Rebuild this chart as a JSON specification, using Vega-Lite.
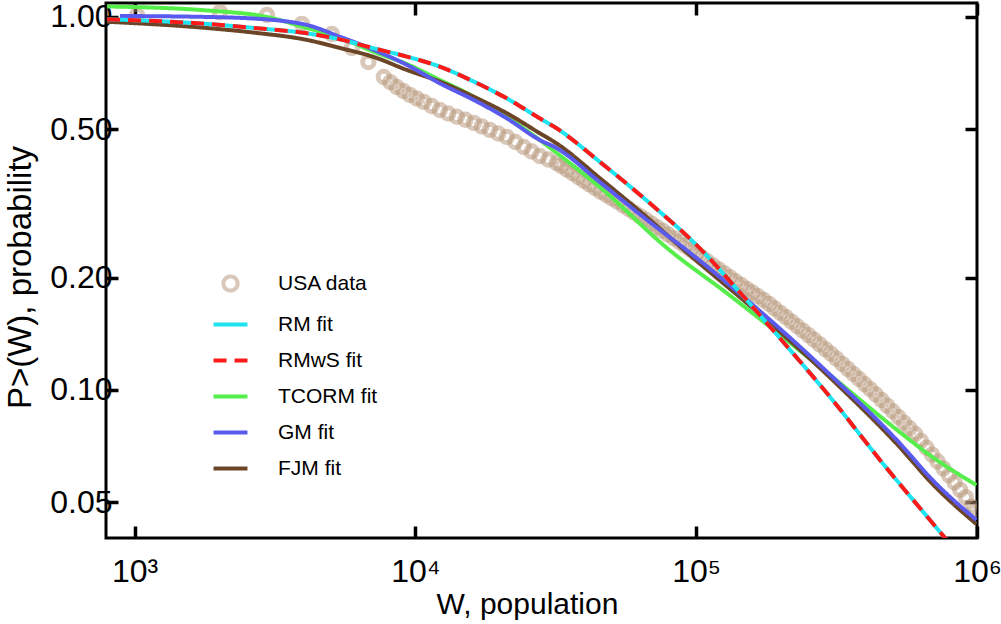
{
  "$schema": "https://vega.github.io/schema/vega-lite/v6.json",
  "autosize": "none",
  "width": 871,
  "height": 535,
  "padding": {"left": 106, "top": 3, "right": 24, "bottom": 86},
  "background": "white",
  "config": {
    "view": {"stroke": "#000000", "strokeWidth": 3},
    "font": "Liberation Sans"
  },
  "datasets": {
    "usa": [
      {"series":"USA data","W":1020,"P":1.012},{"series":"USA data","W":2014,"P":1.03},{"series":"USA data","W":2960,"P":1.012},
      {"series":"USA data","W":3943,"P":0.958},{"series":"USA data","W":5041,"P":0.900},{"series":"USA data","W":5938,"P":0.826},
      {"series":"USA data","W":6800,"P":0.757},{"series":"USA data","W":7718,"P":0.690},{"series":"USA data","W":8147,"P":0.669},
      {"series":"USA data","W":8587,"P":0.649},{"series":"USA data","W":9057,"P":0.633},{"series":"USA data","W":9552,"P":0.618},
      {"series":"USA data","W":10116,"P":0.6045},{"series":"USA data","W":10712,"P":0.592},{"series":"USA data","W":11429,"P":0.577},
      {"series":"USA data","W":12214,"P":0.563},{"series":"USA data","W":13092,"P":0.551},{"series":"USA data","W":14045,"P":0.540},
      {"series":"USA data","W":15066,"P":0.530},{"series":"USA data","W":16143,"P":0.520},{"series":"USA data","W":17219,"P":0.509},
      {"series":"USA data","W":18403,"P":0.498},{"series":"USA data","W":19724,"P":0.487},{"series":"USA data","W":21151,"P":0.477},
      {"series":"USA data","W":22699,"P":0.462},{"series":"USA data","W":24311,"P":0.448},{"series":"USA data","W":25942,"P":0.436},
      {"series":"USA data","W":27712,"P":0.424},{"series":"USA data","W":29717,"P":0.415},{"series":"USA data","W":31853,"P":0.406},
      {"series":"USA data","W":33113,"P":0.3987},{"series":"USA data","W":34674,"P":0.3897},{"series":"USA data","W":36308,"P":0.3809},
      {"series":"USA data","W":38019,"P":0.3723},{"series":"USA data","W":39811,"P":0.3639},{"series":"USA data","W":41687,"P":0.3557},
      {"series":"USA data","W":43652,"P":0.3478},{"series":"USA data","W":45709,"P":0.3401},{"series":"USA data","W":47863,"P":0.3331},
      {"series":"USA data","W":50119,"P":0.3263},{"series":"USA data","W":52481,"P":0.3196},{"series":"USA data","W":54954,"P":0.3126},
      {"series":"USA data","W":57544,"P":0.3057},{"series":"USA data","W":60256,"P":0.2989},{"series":"USA data","W":63096,"P":0.2924},
      {"series":"USA data","W":66069,"P":0.2859},{"series":"USA data","W":69183,"P":0.2795},{"series":"USA data","W":72444,"P":0.2733},
      {"series":"USA data","W":75858,"P":0.2671},{"series":"USA data","W":79433,"P":0.2612},{"series":"USA data","W":83176,"P":0.2553},
      {"series":"USA data","W":87096,"P":0.2496},{"series":"USA data","W":91201,"P":0.2436},{"series":"USA data","W":95499,"P":0.2377},
      {"series":"USA data","W":100000,"P":0.2320},{"series":"USA data","W":104713,"P":0.2265},{"series":"USA data","W":109648,"P":0.2210},
      {"series":"USA data","W":114815,"P":0.2157},{"series":"USA data","W":120226,"P":0.2105},{"series":"USA data","W":125893,"P":0.2054},
      {"series":"USA data","W":131826,"P":0.2005},{"series":"USA data","W":138038,"P":0.1957},{"series":"USA data","W":144544,"P":0.1911},
      {"series":"USA data","W":151356,"P":0.1867},{"series":"USA data","W":158489,"P":0.1825},{"series":"USA data","W":165959,"P":0.1783},
      {"series":"USA data","W":173780,"P":0.1743},{"series":"USA data","W":181970,"P":0.1701},{"series":"USA data","W":190546,"P":0.1654},
      {"series":"USA data","W":199526,"P":0.1609},{"series":"USA data","W":208930,"P":0.1566},{"series":"USA data","W":218776,"P":0.1524},
      {"series":"USA data","W":229087,"P":0.1482},{"series":"USA data","W":239883,"P":0.1442},{"series":"USA data","W":251189,"P":0.1403},
      {"series":"USA data","W":263027,"P":0.1364},{"series":"USA data","W":275423,"P":0.1325},{"series":"USA data","W":288403,"P":0.1287},
      {"series":"USA data","W":301995,"P":0.1250},{"series":"USA data","W":316228,"P":0.1212},{"series":"USA data","W":331131,"P":0.1175},
      {"series":"USA data","W":346737,"P":0.1139},{"series":"USA data","W":363078,"P":0.1104},{"series":"USA data","W":380189,"P":0.1070},
      {"series":"USA data","W":398107,"P":0.1036},{"series":"USA data","W":416869,"P":0.1004},{"series":"USA data","W":436516,"P":0.09723},
      {"series":"USA data","W":457088,"P":0.09403},{"series":"USA data","W":478630,"P":0.09080},{"series":"USA data","W":501187,"P":0.08768},
      {"series":"USA data","W":524807,"P":0.08467},{"series":"USA data","W":549541,"P":0.08176},{"series":"USA data","W":575440,"P":0.07894},
      {"series":"USA data","W":602560,"P":0.07619},{"series":"USA data","W":630957,"P":0.07303},{"series":"USA data","W":660693,"P":0.07000},
      {"series":"USA data","W":691831,"P":0.06710},{"series":"USA data","W":724436,"P":0.06431},{"series":"USA data","W":758578,"P":0.06165},
      {"series":"USA data","W":794328,"P":0.05909},{"series":"USA data","W":831764,"P":0.05647},{"series":"USA data","W":870964,"P":0.05398},
      {"series":"USA data","W":912011,"P":0.05160},{"series":"USA data","W":954993,"P":0.04864},{"series":"USA data","W":977237,"P":0.04722}
    ],
    "fits": [
      {"series":"TCORM fit","W":798,"P":1.067},{"series":"TCORM fit","W":1810,"P":1.041},{"series":"TCORM fit","W":2960,"P":1.0},
      {"series":"TCORM fit","W":4108,"P":0.934},{"series":"TCORM fit","W":5383,"P":0.881},{"series":"TCORM fit","W":7112,"P":0.806},
      {"series":"TCORM fit","W":9320,"P":0.748},{"series":"TCORM fit","W":12214,"P":0.678},{"series":"TCORM fit","W":16143,"P":0.611},
      {"series":"TCORM fit","W":21151,"P":0.540},{"series":"TCORM fit","W":27712,"P":0.468},{"series":"TCORM fit","W":31853,"P":0.432},
      {"series":"TCORM fit","W":45326,"P":0.350},{"series":"TCORM fit","W":80420,"P":0.237},{"series":"TCORM fit","W":128280,"P":0.182},
      {"series":"TCORM fit","W":193280,"P":0.143},{"series":"TCORM fit","W":305800,"P":0.1083},{"series":"TCORM fit","W":529600,"P":0.0772},
      {"series":"TCORM fit","W":694000,"P":0.0661},{"series":"TCORM fit","W":995200,"P":0.0556},

      {"series":"FJM fit","W":798,"P":0.971},{"series":"FJM fit","W":1810,"P":0.934},{"series":"FJM fit","W":2727,"P":0.906},
      {"series":"FJM fit","W":4108,"P":0.868},{"series":"FJM fit","W":5383,"P":0.826},{"series":"FJM fit","W":7112,"P":0.781},
      {"series":"FJM fit","W":9320,"P":0.721},{"series":"FJM fit","W":12214,"P":0.671},{"series":"FJM fit","W":16143,"P":0.611},
      {"series":"FJM fit","W":21151,"P":0.552},{"series":"FJM fit","W":27712,"P":0.488},{"series":"FJM fit","W":31853,"P":0.458},
      {"series":"FJM fit","W":45326,"P":0.370},{"series":"FJM fit","W":68270,"P":0.286},{"series":"FJM fit","W":92430,"P":0.234},
      {"series":"FJM fit","W":178070,"P":0.154},{"series":"FJM fit","W":305800,"P":0.1064},{"series":"FJM fit","W":529600,"P":0.0704},
      {"series":"FJM fit","W":694000,"P":0.056},{"series":"FJM fit","W":995200,"P":0.0437},

      {"series":"GM fit","W":887,"P":1.006},{"series":"GM fit","W":1810,"P":1.0},{"series":"GM fit","W":2960,"P":0.985},
      {"series":"GM fit","W":3573,"P":0.970},{"series":"GM fit","W":4108,"P":0.952},{"series":"GM fit","W":5383,"P":0.885},
      {"series":"GM fit","W":7112,"P":0.816},{"series":"GM fit","W":9320,"P":0.744},{"series":"GM fit","W":12214,"P":0.664},
      {"series":"GM fit","W":16143,"P":0.599},{"series":"GM fit","W":21151,"P":0.535},{"series":"GM fit","W":27712,"P":0.468},
      {"series":"GM fit","W":31853,"P":0.445},{"series":"GM fit","W":45326,"P":0.361},{"series":"GM fit","W":68270,"P":0.282},
      {"series":"GM fit","W":92430,"P":0.237},{"series":"GM fit","W":178070,"P":0.157},{"series":"GM fit","W":305800,"P":0.1083},
      {"series":"GM fit","W":529600,"P":0.0721},{"series":"GM fit","W":694000,"P":0.0574},{"series":"GM fit","W":995200,"P":0.0448},

      {"series":"RM fit","W":798,"P":0.986},{"series":"RM fit","W":1810,"P":0.958},{"series":"RM fit","W":2727,"P":0.933},
      {"series":"RM fit","W":4108,"P":0.904},{"series":"RM fit","W":5383,"P":0.871},{"series":"RM fit","W":7112,"P":0.824},
      {"series":"RM fit","W":9320,"P":0.783},{"series":"RM fit","W":12214,"P":0.736},{"series":"RM fit","W":16143,"P":0.671},
      {"series":"RM fit","W":21151,"P":0.605},{"series":"RM fit","W":27712,"P":0.535},{"series":"RM fit","W":31853,"P":0.503},
      {"series":"RM fit","W":45326,"P":0.409},{"series":"RM fit","W":68270,"P":0.317},{"series":"RM fit","W":102830,"P":0.240},
      {"series":"RM fit","W":142710,"P":0.183},{"series":"RM fit","W":198110,"P":0.138},{"series":"RM fit","W":305800,"P":0.094},
      {"series":"RM fit","W":460600,"P":0.0637},{"series":"RM fit","W":694000,"P":0.044},{"series":"RM fit","W":865800,"P":0.0361},

      {"series":"RMwS fit","W":798,"P":0.986},{"series":"RMwS fit","W":1810,"P":0.958},{"series":"RMwS fit","W":2727,"P":0.933},
      {"series":"RMwS fit","W":4108,"P":0.904},{"series":"RMwS fit","W":5383,"P":0.871},{"series":"RMwS fit","W":7112,"P":0.824},
      {"series":"RMwS fit","W":9320,"P":0.783},{"series":"RMwS fit","W":12214,"P":0.736},{"series":"RMwS fit","W":16143,"P":0.671},
      {"series":"RMwS fit","W":21151,"P":0.605},{"series":"RMwS fit","W":27712,"P":0.535},{"series":"RMwS fit","W":31853,"P":0.503},
      {"series":"RMwS fit","W":45326,"P":0.409},{"series":"RMwS fit","W":68270,"P":0.317},{"series":"RMwS fit","W":102830,"P":0.240},
      {"series":"RMwS fit","W":142710,"P":0.183},{"series":"RMwS fit","W":198110,"P":0.138},{"series":"RMwS fit","W":305800,"P":0.094},
      {"series":"RMwS fit","W":460600,"P":0.0637},{"series":"RMwS fit","W":694000,"P":0.044},{"series":"RMwS fit","W":865800,"P":0.0361}
    ]
  },
  "resolve": {"axis": {"x": "independent", "y": "independent"}},
  "layer": [
    {
      "data": {"name": "usa"},
      "mark": {"type": "point", "filled": false, "size": 130, "strokeWidth": 5, "opacity": 1, "clip": true},
      "encoding": {
        "x": {"field": "W", "type": "quantitative",
          "scale": {"type": "log", "domain": [791, 1000000], "nice": false},
          "axis": {"orient": "bottom", "values": [1000, 10000, 100000, 1000000],
            "labelExpr": "datum.value == 1000 ? '10³' : datum.value == 10000 ? '10⁴' : datum.value == 100000 ? '10⁵' : '10⁶'",
            "domain": false, "grid": false, "tickSize": -12, "tickWidth": 3.5, "tickColor": "#000000",
            "labelFont": "Liberation Sans", "labelFontSize": 32, "labelColor": "#000000", "labelPadding": 30,
            "labelFlush": false, "labelOverlap": false,
            "title": "W, population", "titleFont": "Liberation Sans", "titleFontSize": 30, "titleFontWeight": "normal",
            "titleColor": "#000000", "titleX": 421, "titleY": 75, "titleBaseline": "alphabetic", "titleAlign": "center"}},
        "y": {"field": "P", "type": "quantitative",
          "scale": {"type": "log", "domain": [0.0401, 1.09], "nice": false},
          "axis": {"orient": "left", "values": [0.05, 0.1, 0.2, 0.5, 1], "format": ".2f",
            "domain": false, "grid": false, "tickSize": -12, "tickWidth": 3.5, "tickColor": "#000000",
            "labelFont": "Liberation Sans", "labelFontSize": 32, "labelColor": "#000000", "labelPadding": 6,
            "labelFlush": false, "labelOverlap": false,
            "title": "P>(W), probability", "titleFont": "Liberation Sans", "titleFontSize": 33, "titleFontWeight": "normal",
            "titleColor": "#000000", "titleX": -76, "titleY": 274, "titleAngle": -90, "titleBaseline": "alphabetic", "titleAlign": "center"}},
        "color": {"field": "series", "type": "nominal",
          "scale": {"domain": ["USA data", "RM fit", "RMwS fit", "TCORM fit", "GM fit", "FJM fit"],
                    "range": ["rgba(179,146,116,0.5)", "#1fe3ee", "#ff1a1a", "#55ee4a", "#5a5aee", "#6b4526"]},
          "legend": {"orient": "none", "legendX": 114, "legendY": 270, "title": null, "padding": 0,
            "labelFont": "Liberation Sans", "labelFontSize": 21, "labelColor": "#000000", "labelOffset": 37,
            "rowPadding": 14, "symbolSize": 200, "symbolStrokeWidth": 4, "symbolOpacity": 1}},
        "shape": {"field": "series", "type": "nominal",
          "scale": {"domain": ["USA data", "RM fit", "RMwS fit", "TCORM fit", "GM fit", "FJM fit"],
                    "range": ["circle", "M -2.4,0 L 2.4,0", "M -2.4,0 L 2.4,0", "M -2.4,0 L 2.4,0", "M -2.4,0 L 2.4,0", "M -2.4,0 L 2.4,0"]},
          "legend": {"orient": "none", "legendX": 114, "legendY": 270, "title": null, "padding": 0,
            "labelFont": "Liberation Sans", "labelFontSize": 21, "labelColor": "#000000", "labelOffset": 37,
            "rowPadding": 14, "symbolSize": 200, "symbolStrokeWidth": 4, "symbolOpacity": 1}}
      }
    },
    {
      "data": {"name": "fits"},
      "transform": [{"filter": "datum.series === 'TCORM fit'"}],
      "mark": {"type": "line", "strokeWidth": 4, "interpolate": "monotone", "clip": true},
      "encoding": {
        "x": {"field": "W", "type": "quantitative",
          "axis": {"orient": "top", "values": [1000, 10000, 100000, 1000000], "labels": false, "domain": false, "grid": false,
            "tickSize": -12, "tickWidth": 3.5, "tickColor": "#000000", "title": null}},
        "y": {"field": "P", "type": "quantitative",
          "axis": {"orient": "right", "values": [0.05, 0.1, 0.2, 0.5, 1], "labels": false, "domain": false, "grid": false,
            "tickSize": -12, "tickWidth": 3.5, "tickColor": "#000000", "title": null}},
        "color": {"field": "series", "type": "nominal"},
        "strokeDash": {"field": "series", "type": "nominal",
          "scale": {"domain": ["USA data", "RM fit", "RMwS fit", "TCORM fit", "GM fit", "FJM fit"],
                    "range": [[1, 0], [1, 0], [13, 8], [1, 0], [1, 0], [1, 0]]},
          "legend": {"orient": "none", "legendX": 114, "legendY": 270, "title": null, "padding": 0,
            "labelFont": "Liberation Sans", "labelFontSize": 21, "labelColor": "#000000", "labelOffset": 37,
            "rowPadding": 14, "symbolSize": 200, "symbolStrokeWidth": 4, "symbolOpacity": 1}}
      }
    },
    {
      "data": {"name": "fits"},
      "transform": [{"filter": "datum.series === 'FJM fit'"}],
      "mark": {"type": "line", "strokeWidth": 4, "interpolate": "monotone", "clip": true},
      "encoding": {
        "x": {"field": "W", "type": "quantitative", "axis": null},
        "y": {"field": "P", "type": "quantitative", "axis": null},
        "color": {"field": "series", "type": "nominal"},
        "strokeDash": {"field": "series", "type": "nominal"}
      }
    },
    {
      "data": {"name": "fits"},
      "transform": [{"filter": "datum.series === 'GM fit'"}],
      "mark": {"type": "line", "strokeWidth": 4, "interpolate": "monotone", "clip": true},
      "encoding": {
        "x": {"field": "W", "type": "quantitative", "axis": null},
        "y": {"field": "P", "type": "quantitative", "axis": null},
        "color": {"field": "series", "type": "nominal"},
        "strokeDash": {"field": "series", "type": "nominal"}
      }
    },
    {
      "data": {"name": "fits"},
      "transform": [{"filter": "datum.series === 'RM fit'"}],
      "mark": {"type": "line", "strokeWidth": 4, "interpolate": "monotone", "clip": true},
      "encoding": {
        "x": {"field": "W", "type": "quantitative", "axis": null},
        "y": {"field": "P", "type": "quantitative", "axis": null},
        "color": {"field": "series", "type": "nominal"},
        "strokeDash": {"field": "series", "type": "nominal"}
      }
    },
    {
      "data": {"name": "fits"},
      "transform": [{"filter": "datum.series === 'RMwS fit'"}],
      "mark": {"type": "line", "strokeWidth": 4, "interpolate": "monotone", "clip": true},
      "encoding": {
        "x": {"field": "W", "type": "quantitative", "axis": null},
        "y": {"field": "P", "type": "quantitative", "axis": null},
        "color": {"field": "series", "type": "nominal"},
        "strokeDash": {"field": "series", "type": "nominal"}
      }
    }
  ]
}
